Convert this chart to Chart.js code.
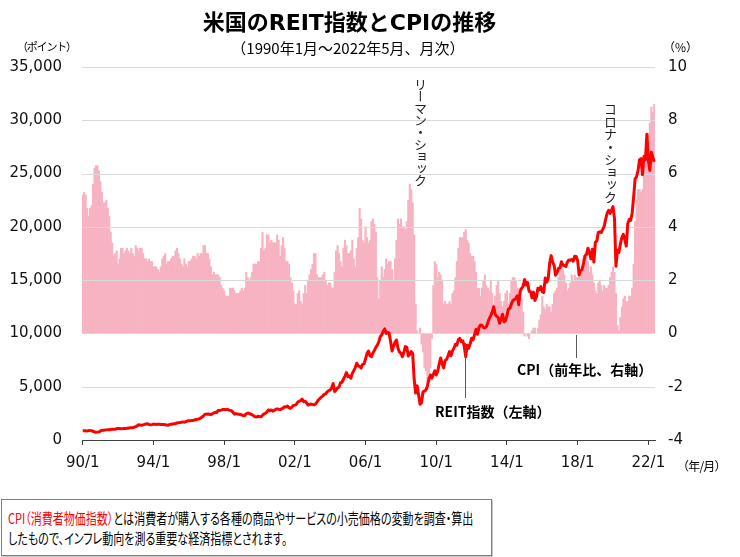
<!DOCTYPE html>
<html lang="ja">
<head>
<meta charset="utf-8">
<script src="https://cdn.jsdelivr.net/npm/chart.js@4.4.1/dist/chart.umd.min.js"></script>
<style>
  body { margin: 0; width: 740px; height: 557px; position: relative; overflow: hidden; background: #fff;
         font-family: "Noto Sans CJK JP", sans-serif; color: #000; }
  #wrap { position: absolute; left: 0; top: 0; width: 740px; height: 480px; }
  .t { position: absolute; white-space: nowrap; line-height: 1; }
  .vert { writing-mode: vertical-rl; font-size: 13px; color: #222; }
  .lead { position: absolute; width: 1px; background: #595959; }
  #note { position: absolute; left: 1px; top: 499px; width: 489px; height: 55px; border: 1px solid #7f7f7f;
          box-shadow: 1px 1px 0 #c8c8c8; }
  .nl { position: absolute; left: 8px; font-size: 14.5px; transform: scaleX(0.76); transform-origin: left center; }
</style>
</head>
<body>
<div id="wrap"><canvas id="graph"></canvas></div>

<div class="t" style="left:0; width:699px; text-align:center; top:12px; font-size:22px; font-weight:bold; font-family:'DejaVu Sans','Noto Sans CJK JP',sans-serif;">米国のREIT指数とCPIの推移</div>
<div class="t" style="left:0; width:696px; text-align:center; top:40px; font-size:15px;">（1990年1月～2022年5月、月次）</div>
<div class="t" style="left:17px; top:41px; font-size:11px; letter-spacing:-1.2px;">（ポイント）</div>
<div class="t" style="left:663px; top:41px; font-size:12px;">（%）</div>
<div class="t" style="left:677px; top:460px; font-size:12px; letter-spacing:-0.8px;">（年/月）</div>

<div class="t vert" style="left:414px; top:78px; letter-spacing:-1px;">リーマン・ショック</div>
<div class="t vert" style="left:604px; top:103px; letter-spacing:-0.5px;">コロナ・ショック</div>

<div class="lead" style="left:576px; top:335px; height:23px;"></div>
<div class="t" style="left:517px; top:362px; font-size:14px; font-weight:bold;">CPI（前年比、右軸）</div>
<div class="lead" style="left:465px; top:343px; height:55px;"></div>
<div class="t" style="left:435px; top:404px; font-size:14px; font-weight:bold;">REIT指数（左軸）</div>

<div id="note"></div>
<div class="t nl" style="top:511px; font-feature-settings:'palt';"><span style="color:#ff0000;">CPI（消費者物価指数）</span>とは消費者が購入する各種の商品やサービスの小売価格の変動を調査・算出</div>
<div class="t nl" style="top:531px; font-feature-settings:'palt';">したもので、インフレ動向を測る重要な経済指標とされます。</div>

<script>
// CPI 前年比 (%), 1990/1 - 2022/5
var cpi = [
  5.2, 5.3, 5.2, 4.7, 4.4, 4.7, 4.8, 5.6, 6.2, 6.3, 6.3, 6.1,   // 1990
  5.7, 5.3, 4.9, 4.9, 5.0, 4.7, 4.4, 3.8, 3.4, 2.9, 3.0, 3.1,   // 1991
  2.6, 2.8, 3.2, 3.2, 3.0, 3.1, 3.2, 3.1, 3.0, 3.2, 3.0, 2.9,   // 1992
  3.3, 3.2, 3.1, 3.2, 3.2, 3.0, 2.8, 2.8, 2.7, 2.8, 2.7, 2.7,   // 1993
  2.5, 2.5, 2.5, 2.4, 2.3, 2.5, 2.8, 2.9, 3.0, 2.6, 2.7, 2.7,   // 1994
  2.8, 2.9, 2.9, 3.1, 3.2, 3.0, 2.8, 2.6, 2.5, 2.8, 2.6, 2.5,   // 1995
  2.7, 2.7, 2.8, 2.9, 2.9, 2.8, 3.0, 2.9, 3.0, 3.0, 3.3, 3.3,   // 1996
  3.0, 3.0, 2.8, 2.5, 2.2, 2.3, 2.2, 2.2, 2.2, 2.1, 1.8, 1.7,   // 1997
  1.6, 1.4, 1.4, 1.4, 1.7, 1.7, 1.7, 1.6, 1.5, 1.5, 1.5, 1.6,   // 1998
  1.7, 1.6, 1.7, 2.3, 2.1, 2.0, 2.1, 2.3, 2.6, 2.6, 2.6, 2.7,   // 1999
  2.7, 3.2, 3.8, 3.1, 3.2, 3.7, 3.7, 3.4, 3.5, 3.4, 3.4, 3.4,   // 2000
  3.7, 3.5, 2.9, 3.3, 3.6, 3.2, 2.7, 2.7, 2.6, 2.1, 1.9, 1.6,   // 2001
  1.1, 1.1, 1.5, 1.6, 1.2, 1.1, 1.5, 1.8, 1.5, 2.0, 2.2, 2.4,   // 2002
  2.6, 3.0, 3.0, 2.2, 2.1, 2.1, 2.1, 2.2, 2.3, 2.0, 1.8, 1.9,   // 2003
  1.9, 1.7, 1.7, 2.3, 3.1, 3.3, 3.0, 2.7, 2.5, 3.2, 3.5, 3.3,   // 2004
  3.0, 3.0, 3.1, 3.5, 2.8, 2.5, 3.2, 3.6, 4.7, 4.3, 3.5, 3.4,   // 2005
  4.0, 3.6, 3.4, 3.5, 4.2, 4.3, 4.1, 3.8, 2.1, 1.3, 2.0, 2.5,   // 2006
  2.1, 2.4, 2.8, 2.6, 2.7, 2.7, 2.4, 2.0, 2.8, 3.5, 4.3, 4.1,   // 2007
  4.3, 4.0, 4.0, 3.9, 4.2, 5.0, 5.6, 5.4, 4.9, 3.7, 1.1, 0.1,   // 2008
  0.0, 0.2, -0.4, -0.7, -1.3, -1.4, -2.1, -1.5, -1.3, -0.2, 1.8, 2.7, // 2009
  2.6, 2.1, 2.3, 2.2, 2.0, 1.1, 1.2, 1.1, 1.1, 1.2, 1.1, 1.5,   // 2010
  1.6, 2.1, 2.7, 3.2, 3.6, 3.6, 3.6, 3.8, 3.9, 3.5, 3.4, 3.0,   // 2011
  2.9, 2.9, 2.7, 2.3, 1.7, 1.7, 1.4, 1.7, 2.0, 2.2, 1.8, 1.7,   // 2012
  1.6, 2.0, 1.5, 1.1, 1.4, 1.8, 2.0, 1.5, 1.2, 1.0, 1.2, 1.5,   // 2013
  1.6, 1.1, 1.5, 2.0, 2.1, 2.1, 2.0, 1.7, 1.7, 1.7, 1.3, 0.8,   // 2014
  -0.1, 0.0, -0.1, -0.2, 0.0, 0.1, 0.2, 0.2, 0.0, 0.2, 0.5, 0.7, // 2015
  1.4, 1.0, 0.9, 1.1, 1.0, 1.0, 0.8, 1.1, 1.5, 1.6, 1.7, 2.1,   // 2016
  2.5, 2.7, 2.4, 2.2, 1.9, 1.6, 1.7, 1.9, 2.2, 2.0, 2.2, 2.1,   // 2017
  2.1, 2.2, 2.4, 2.5, 2.8, 2.9, 2.9, 2.7, 2.3, 2.5, 2.2, 1.9,   // 2018
  1.6, 1.5, 1.9, 2.0, 1.8, 1.6, 1.8, 1.7, 1.7, 1.8, 2.1, 2.3,   // 2019
  2.5, 2.3, 1.5, 0.3, 0.1, 0.6, 1.0, 1.3, 1.4, 1.2, 1.2, 1.4,   // 2020
  1.4, 1.7, 2.6, 4.2, 5.0, 5.4, 5.4, 5.3, 5.4, 6.2, 6.8, 7.0,   // 2021
  7.5, 7.9, 8.5, 8.3, 8.6                                       // 2022
];

// REIT指数 (ポイント), 1990/1 - 2022/5
var reit = [
  870, 880, 860, 850, 880, 880, 870, 820, 770, 720, 740, 760,                     // 1990
  850, 900, 920, 930, 950, 960, 970, 990, 1000, 1000, 1010, 1060,                 // 1991
  1090, 1080, 1060, 1050, 1080, 1070, 1100, 1110, 1150, 1140, 1160, 1200,         // 1992
  1260, 1330, 1440, 1400, 1380, 1420, 1470, 1500, 1520, 1460, 1420, 1440,         // 1993
  1490, 1470, 1450, 1470, 1480, 1460, 1450, 1460, 1440, 1400, 1380, 1460,         // 1994
  1480, 1500, 1520, 1530, 1600, 1630, 1650, 1660, 1700, 1670, 1720, 1780,         // 1995
  1800, 1810, 1830, 1840, 1880, 1920, 1940, 1990, 2060, 2150, 2270, 2410,         // 1996
  2420, 2430, 2420, 2380, 2460, 2540, 2600, 2590, 2780, 2760, 2800, 2860,         // 1997
  2870, 2850, 2880, 2820, 2780, 2740, 2600, 2420, 2480, 2440, 2420, 2390,         // 1998
  2350, 2300, 2300, 2460, 2520, 2500, 2420, 2380, 2260, 2190, 2160, 2230,         // 1999
  2200, 2180, 2300, 2450, 2500, 2620, 2820, 2750, 2820, 2700, 2780, 2870,         // 2000
  2920, 2880, 2850, 2920, 2990, 3130, 3090, 3180, 3040, 2970, 3080, 3250,         // 2001
  3270, 3330, 3560, 3640, 3700, 3830, 3600, 3640, 3480, 3280, 3350, 3370,         // 2002
  3320, 3300, 3380, 3560, 3760, 3900, 4040, 4130, 4290, 4330, 4530, 4620,         // 2003
  4700, 4880, 5300, 4550, 4700, 4900, 4960, 5370, 5420, 5700, 6000, 6320,         // 2004
  5950, 6000, 5800, 6250, 6500, 6800, 7200, 6950, 6900, 6750, 7100, 7150,         // 2005
  7600, 8130, 8350, 7900, 7820, 8150, 8400, 8700, 8900, 9220, 9700, 9850,         // 2006
  10200, 10420, 10000, 10080, 10050, 9220, 8350, 8800, 9180, 9380, 8620, 8250,    // 2007
  8150, 7820, 8200, 8760, 8720, 7880, 8050, 8300, 8100, 5700, 4400, 5100,         // 2008
  4250, 3350, 3500, 4500, 4600, 4700, 5050, 5700, 6100, 5800, 6150, 6500,         // 2009
  6100, 6450, 7150, 7700, 7150, 6770, 7450, 7550, 7900, 8300, 7900, 8350,         // 2010
  8600, 8980, 8900, 9420, 9540, 9220, 9300, 8800, 7800, 8900, 8600, 9000,         // 2011
  9550, 9400, 9880, 10380, 9920, 10550, 10780, 10770, 10560, 10520, 10620, 11000, // 2012
  11400, 11650, 12000, 12500, 11800, 11600, 11500, 10950, 11300, 11800, 11100, 11200, // 2013
  11700, 12300, 12350, 12770, 13070, 13180, 13300, 13530, 12700, 13940, 14240, 14440, // 2014
  15050, 14540, 14770, 13950, 13910, 13340, 13880, 13100, 13430, 14230, 14080, 14390, // 2015
  13900, 13840, 15210, 14800, 15160, 16600, 17300, 16700, 16400, 15450, 15700, 16100, // 2016
  16160, 16730, 16400, 16380, 16270, 16700, 16900, 16870, 16940, 16780, 17240, 17230, // 2017
  16800, 15500, 15900, 16000, 16600, 17300, 17400, 18000, 17600, 17000, 17900, 16700, // 2018
  18550, 18680, 19480, 19540, 19470, 19760, 20050, 20710, 21280, 21550, 21270, 21560, // 2019
  21900, 20800, 16300, 17800, 17600, 18400, 19000, 19300, 18800, 18200, 20300, 20700, // 2020
  20600, 21300, 22800, 24500, 24700, 25300, 26300, 26400, 24900, 26600, 26300, 28700, // 2021
  26200, 25300, 27000, 26500, 26100                                                  // 2022
];

var xTicks = ['90/1', '94/1', '98/1', '02/1', '06/1', '10/1', '14/1', '18/1', '22/1'];

var months = [];
for (var i = 0; i < reit.length; i++) {
  var yy = (1990 + Math.floor(i / 12)) % 100;
  months.push((yy < 10 ? '0' + yy : '' + yy) + '/' + (i % 12 + 1));
}

var tickFont = { family: '"DejaVu Sans", sans-serif', size: 15 };

// draw the horizontal grid after the bars but under the REIT line
var gridOverBars = {
  id: 'gridOverBars',
  beforeDatasetDraw: function (chart, args) {
    if (args.index !== 1) return;
    var ctx = chart.ctx, area = chart.chartArea, ys = chart.scales.y;
    ctx.save();
    ctx.strokeStyle = '#d9d9d9';
    ctx.lineWidth = 1;
    ys.ticks.forEach(function (t) {
      if (t.value === 0) return;
      var py = Math.round(ys.getPixelForValue(t.value)) + 0.5;
      ctx.beginPath();
      ctx.moveTo(area.left, py);
      ctx.lineTo(area.right, py);
      ctx.stroke();
    });
    ctx.restore();
  }
};

var g = document.getElementById('graph').getContext('2d');
var graph = new Chart(g, {
  type: 'bar',
  data: {
    labels: months,
    datasets: [{
      label: 'CPI（前年比、右軸）',
      data: cpi,
      yAxisID: 'y2',
      backgroundColor: '#f7b3c1',
      borderWidth: 0,
      barPercentage: 1,
      categoryPercentage: 1,
      order: 1
    }, {
      type: 'line',
      label: 'REIT指数（左軸）',
      data: reit,
      yAxisID: 'y',
      borderColor: '#ff0000',
      borderWidth: 3,
      pointRadius: 0,
      borderJoinStyle: 'round',
      tension: 0,
      order: 0
    }]
  },
  options: {
    responsive: true,
    maintainAspectRatio: false,
    animation: false,
    layout: { padding: { top: 67, left: 0, right: 0, bottom: 0 } },
    plugins: { legend: { display: false }, tooltip: { enabled: false } },
    scales: {
      x: {
        offset: true,
        grid: { offset: false, drawOnChartArea: false, drawTicks: true, tickLength: 5, color: '#404040' },
        border: { display: true, color: '#404040', width: 1 },
        ticks: {
          autoSkip: false, maxRotation: 0, minRotation: 0, padding: 9, color: '#111', font: tickFont,
          callback: function (v) {
            var l = this.getLabelForValue(v);
            return xTicks.indexOf(l) >= 0 ? l : null;
          }
        },
        afterFit: function (s) { s.height = 40; }
      },
      y: {
        position: 'left', min: 0, max: 35000,
        grid: { display: false, drawTicks: false },
        border: { display: false },
        ticks: {
          stepSize: 5000, padding: 20, color: '#111', font: tickFont,
          callback: function (v) { return v.toLocaleString('en-US'); }
        },
        afterFit: function (s) { s.width = 82; }
      },
      y2: {
        position: 'right', min: -4, max: 10,
        grid: { display: false, drawTicks: false },
        border: { display: false },
        ticks: { stepSize: 2, padding: 13, color: '#111', font: tickFont },
        afterFit: function (s) { s.width = 85; }
      }
    }
  },
  plugins: [gridOverBars]
});
</script>
</body>
</html>
